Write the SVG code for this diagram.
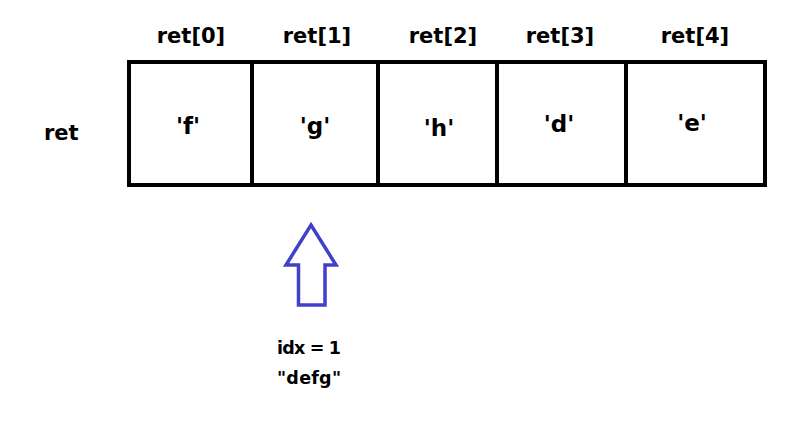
<svg xmlns="http://www.w3.org/2000/svg" width="802" height="437" viewBox="0 0 802 437">
<style>
  text { font-family: "DejaVu Sans", "Liberation Sans", sans-serif; font-weight: bold; fill: #000; }
  .hdr { font-size: 21px; text-anchor: middle; }
  .val { font-size: 23px; text-anchor: middle; }
  .lbl { font-size: 17.5px; }
  .cell { fill: #fff; stroke: #000; stroke-width: 4; }
</style>
<rect x="0" y="0" width="802" height="437" fill="#fff"/>
<g id="label-ret"><text x="44" y="140" class="hdr" style="text-anchor:start">ret</text></g>
<g id="cell0"><rect class="cell" x="129" y="62" width="123" height="123"/><text class="hdr" x="191" y="43">ret[0]</text><text class="val" x="188" y="134">'f'</text></g>
<g id="cell1"><rect class="cell" x="252" y="62" width="126" height="123"/><text class="hdr" x="317" y="43">ret[1]</text><text class="val" x="315" y="134">'g'</text></g>
<g id="cell2"><rect class="cell" x="378" y="62" width="119" height="123"/><text class="hdr" x="443" y="43">ret[2]</text><text class="val" x="439" y="136">'h'</text></g>
<g id="cell3"><rect class="cell" x="497" y="62" width="129" height="123"/><text class="hdr" x="560" y="43">ret[3]</text><text class="val" x="559" y="132">'d'</text></g>
<g id="cell4"><rect class="cell" x="626" y="62" width="139" height="123"/><text class="hdr" x="695" y="43">ret[4]</text><text class="val" x="692" y="131">'e'</text></g>
<g id="connectors">
  <polygon points="311,225 336,265 325,265 325,305 298.5,305 298.5,265 286,265" fill="none" stroke="#4040c8" stroke-width="3.5" stroke-linejoin="miter"/>
</g>
<g id="idx-label">
  <text class="lbl" x="277" y="354" textLength="64" lengthAdjust="spacing">idx = 1</text>
  <text class="lbl" x="277" y="384" textLength="64" lengthAdjust="spacing">"defg"</text>
</g>
</svg>
